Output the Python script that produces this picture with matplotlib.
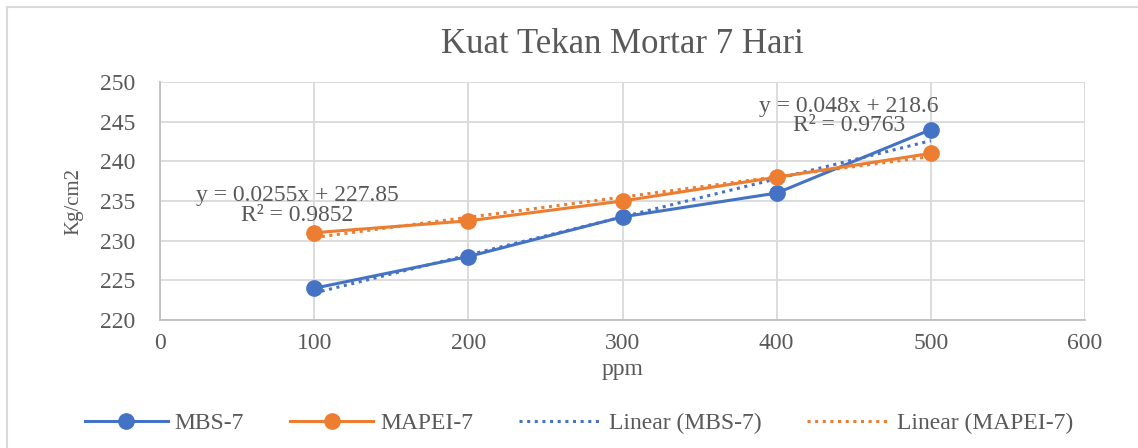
import numpy as np
import matplotlib

matplotlib.use("Agg")
import matplotlib.pyplot as plt
from matplotlib.patches import Rectangle

# data
ppm = [100, 200, 300, 400, 500]
mbs7 = [224, 228, 233, 236, 244]
mapei7 = [231, 232.5, 235, 238, 241]
x_ticks = [0, 100, 200, 300, 400, 500, 600]
y_ticks = [220, 225, 230, 235, 240, 245, 250]

BLUE = "#4472C4"
ORANGE = "#ED7D31"
TXT = "#595959"
GRID = "#D9D9D9"

plt.rcParams["font.family"] = ["Liberation Serif", "DejaVu Serif"]

fig = plt.figure(figsize=(11.38, 4.48), dpi=100)
fig.patches.append(Rectangle((7 / 1138, -0.1), 1.2, 1 - 7 / 448 + 0.1,
                             transform=fig.transFigure, fill=False,
                             edgecolor="#D9D9D9", linewidth=1.5))
ax = fig.add_axes([160 / 1138, 1 - 320 / 448, 925 / 1138, 238 / 448])

ax.plot(ppm, mbs7, "o-", color=BLUE, linewidth=2.2, markersize=11, label="MBS-7", zorder=3)
ax.plot(ppm, mapei7, "o-", color=ORANGE, linewidth=2.2, markersize=11, label="MAPEI-7", zorder=3)

# garis tren linear
xs = np.array(ppm, dtype=float)
for ys, col, name in [(mbs7, BLUE, "MBS-7"), (mapei7, ORANGE, "MAPEI-7")]:
    k, b = np.polyfit(xs, ys, 1)
    ax.plot(xs, k * xs + b, linestyle=(0, (1, 1.5)), color=col, linewidth=2.2,
            label=f"Linear ({name})", zorder=2)

ax.text(447, 245.7, "y = 0.048x + 218.6\nR² = 0.9763", ha="center", va="center",
        fontsize=17, color=TXT, linespacing=0.92, zorder=4)
ax.text(89, 234.4, "y = 0.0255x + 227.85\nR² = 0.9852", ha="center", va="center",
        fontsize=17, color=TXT, linespacing=0.92, zorder=4)

ax.set_xlim(0, 600)
ax.set_ylim(220, 250)
ax.set_xticks(x_ticks)
ax.set_yticks(y_ticks)
ax.grid(True, color=GRID, linewidth=1.3)
ax.set_axisbelow(True)
ax.tick_params(length=0, labelsize=17, labelcolor=TXT)
ax.tick_params(axis="y", pad=18)
ax.tick_params(axis="x", pad=9)
for s in ["top", "right"]:
    ax.spines[s].set_visible(False)
for s in ["left", "bottom"]:
    ax.spines[s].set_color("#BFBFBF")
    ax.spines[s].set_linewidth(1.3)

ax.set_xlabel("ppm", fontsize=17, color=TXT, labelpad=4)
ax.set_ylabel("Kg/cm2", fontsize=15, color=TXT, labelpad=12)
ax.set_title("Kuat Tekan Mortar 7 Hari", fontsize=25, color=TXT, pad=21)

fig.legend(loc="center", bbox_to_anchor=(0.509, 1 - 423 / 448), ncol=4, frameon=False,
           fontsize=17, handlelength=3.5, handletextpad=0.3, columnspacing=1.95,
           labelcolor=TXT)

fig.savefig("out.png", dpi=100)
